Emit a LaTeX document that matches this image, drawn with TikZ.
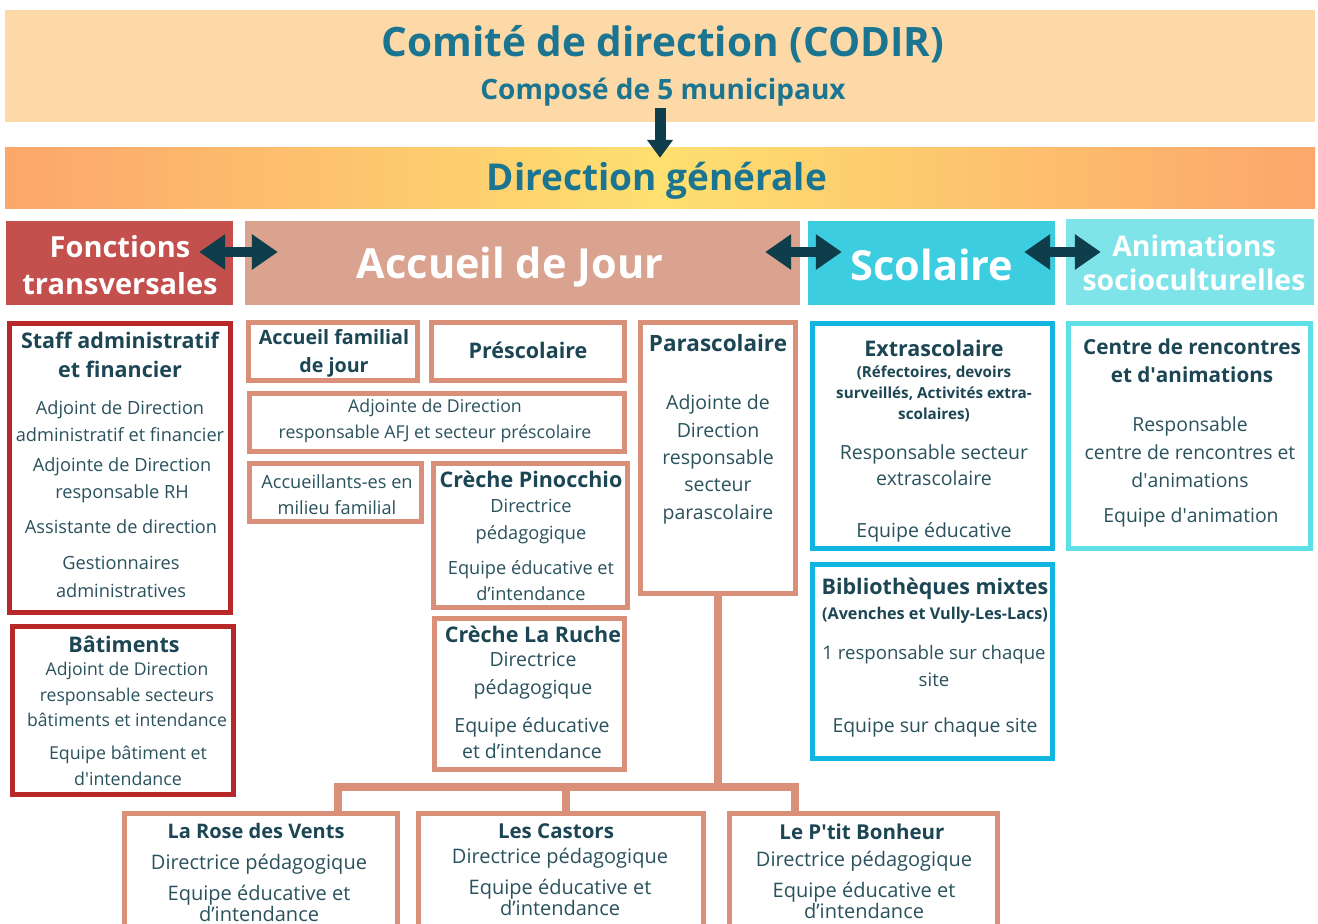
\documentclass[tikz,border=0pt]{standalone}
\usepackage{fontspec}
\setmainfont{Open Sans}
\usetikzlibrary{arrows.meta}
\definecolor{codirfill}{HTML}{FDD9A8}
\definecolor{titleblue}{HTML}{1B7590}
\definecolor{dgedge}{HTML}{FCA66B}
\definecolor{dgmid}{HTML}{FEE070}
\definecolor{fonctfill}{HTML}{C4504D}
\definecolor{accfill}{HTML}{D9A38F}
\definecolor{scolfill}{HTML}{3CCDE0}
\definecolor{animfill}{HTML}{7FE4EA}
\definecolor{redline}{HTML}{B82828}
\definecolor{salmonline}{HTML}{D98F78}
\definecolor{cyanline}{HTML}{10B6DF}
\definecolor{lcyanline}{HTML}{5EE0E6}
\definecolor{navy}{HTML}{0E3E4B}
\definecolor{bodytext}{HTML}{2A525D}
\definecolor{titletext}{HTML}{1C4654}
\begin{document}
\begin{tikzpicture}[x=1pt,y=-1pt,
  frame/.style={draw=#1, line width=5pt, fill=white, inner sep=0pt},
  hdr/.style={fill=#1, draw=none, inner sep=0pt},
  bodyt/.style={font=\fontsize{18.2}{26.5}\selectfont, text=bodytext, align=center, inner sep=0pt},
  titlet/.style={font=\bfseries\fontsize{21.5}{29}\selectfont, text=titletext, align=center, inner sep=0pt},
  smallb/.style={font=\bfseries\fontsize{15.2}{21}\selectfont, text=titletext, align=center, inner sep=0pt},
  hdrt/.style={font=\bfseries\fontsize{29}{37}\selectfont, text=white, align=center, inner sep=0pt},
  bigt/.style={font=\bfseries\fontsize{41.5}{44}\selectfont, text=white, inner sep=0pt},
  dbl/.style={draw=navy, line width=10pt, {Triangle[length=26pt,width=34pt]}-{Triangle[length=26pt,width=34pt]}},
  link/.style={draw=salmonline, line width=8pt},
]
\useasboundingbox (0,0) rectangle (1318,924);
\clip (0,0) rectangle (1318,924);
\fill[white] (0,0) rectangle (1318,924);

% top
\node[fill=codirfill, minimum width=1310pt, minimum height=112pt, inner sep=0pt] (codir) at (660,66) {};
\node[font=\bfseries\fontsize{40.5}{44}\selectfont, text=titleblue, inner sep=0pt] (codirt) at (663,44) {Comité de direction (CODIR)};
\node[font=\bfseries\fontsize{28}{32}\selectfont, text=titleblue, inner sep=0pt] (codirs) at (663,92) {Composé de 5 municipaux};
\node[left color=dgedge, right color=dgedge, middle color=dgmid, minimum width=1310pt, minimum height=61pt, inner sep=0pt] (dg) at (660,177.5) {};
\node[font=\bfseries\fontsize{37}{40}\selectfont, text=titleblue, inner sep=0pt] (dgt) at (657,181) {Direction générale};
\draw[navy, line width=11pt, -{Triangle[length=18pt,width=25pt]}] ([yshift=14pt]codir.south) -- ([yshift=-11pt]dg.north);

% headers
\node[hdr=fonctfill, minimum width=227pt, minimum height=84pt] (fonct) at (119.5,263) {};
\node[hdrt] (fonctt) at (120,265) {Fonctions\\transversales};
\node[hdr=accfill, minimum width=555pt, minimum height=84pt] (accueil) at (522.5,263) {};
\node[bigt] (accueilt) at (510,267) {Accueil de Jour};
\node[hdr=scolfill, minimum width=247pt, minimum height=84pt] (scol) at (931.5,263) {};
\node[bigt] (scolt) at (932,265) {Scolaire};
\node[hdr=animfill, minimum width=248pt, minimum height=86pt] (anim) at (1190,262) {};
\node[hdrt, font=\bfseries\fontsize{28.4}{34}\selectfont] (animt) at (1194,263) {Animations\\socioculturelles};

\draw[dbl] ([xshift=-34pt,yshift=11pt]fonct.east) -- ([xshift=33pt,yshift=11pt]accueil.west);
\draw[dbl] ([xshift=-35pt,yshift=11pt]accueil.east) -- ([xshift=34pt,yshift=11pt]scol.west);
\draw[dbl] ([xshift=-31pt,yshift=11pt]scol.east) -- ([xshift=35pt,yshift=10pt]anim.west);

% connectors (bus)
\coordinate (busL) at (338,787);
\coordinate (busR) at (795,787);

% left column
\node[frame=redline, minimum width=221pt, minimum height=289pt] (staff) at (120,468) {};
\node[titlet] (stafft) at (120,354.5) {Staff administratif\\et financier};
\node[bodyt] (staff1) at (120,421) {Adjoint de Direction\\administratif et financier};
\node[bodyt, font=\fontsize{18.2}{27}\selectfont] (staff2) at (122,480.5) {Adjointe de Direction\\responsable RH};
\node[bodyt] (staff3) at (121,527) {Assistante de direction};
\node[bodyt, font=\fontsize{18.2}{28}\selectfont] (staff4) at (121,577) {Gestionnaires\\administratives};

\node[frame=redline, minimum width=221pt, minimum height=168pt] (bat) at (123,710.5) {};
\node[titlet] (batt) at (124,644) {Bâtiments};
\node[bodyt, font=\fontsize{17.6}{25.5}\selectfont] (bat1) at (127,694.5) {Adjoint de Direction\\responsable secteurs\\bâtiments et intendance};
\node[bodyt, font=\fontsize{17.8}{26}\selectfont] (bat2) at (128,766) {Equipe bâtiment et\\d\textquotesingle intendance};

% Accueil de jour
\node[frame=salmonline, minimum width=169pt, minimum height=58pt] (afj) at (333,351.5) {};
\node[titlet, font=\bfseries\fontsize{19.7}{28}\selectfont] (afjt) at (334,353) {Accueil familial\\de jour};
\node[frame=salmonline, minimum width=193pt, minimum height=58pt] (presco) at (528,351.5) {};
\node[titlet] (prescot) at (528,350) {Préscolaire};
\node[frame=salmonline, minimum width=375pt, minimum height=58pt] (adjafj) at (437,422.5) {};
\node[bodyt, font=\fontsize{17.7}{26}\selectfont] (adjafjt) at (435,421) {Adjointe de Direction\\responsable AFJ et secteur préscolaire};
\node[frame=salmonline, minimum width=172pt, minimum height=58pt] (accfam) at (335.5,492.5) {};
\node[bodyt, font=\fontsize{18.2}{26}\selectfont] (accfamt) at (337,495) {Accueillants-es en\\milieu familial};

\node[frame=salmonline, minimum width=194pt, minimum height=144pt] (pino) at (530.5,535.5) {};
\node[titlet] (pinot) at (531,479) {Crèche Pinocchio};
\node[bodyt, font=\fontsize{18.2}{27}\selectfont] (pino1) at (531,521.5) {Directrice\\pédagogique};
\node[bodyt, font=\fontsize{18.2}{26}\selectfont] (pino2) at (531,581) {Equipe éducative et\\d’intendance};

\node[frame=salmonline, minimum width=190pt, minimum height=151pt] (ruche) at (529.5,694) {};
\node[titlet] (rucht) at (533,634) {Crèche La Ruche};
\node[bodyt, font=\fontsize{19.5}{28}\selectfont] (ruche1) at (533,676) {Directrice\\pédagogique};
\node[bodyt, font=\fontsize{19.5}{26}\selectfont] (ruche2) at (532,738) {Equipe éducative\\et d’intendance};

\node[frame=salmonline, minimum width=155pt, minimum height=271pt] (para) at (718,458) {};
\node[titlet, font=\bfseries\fontsize{22.5}{29}\selectfont] (parat) at (718,343) {Parascolaire};
\node[bodyt, font=\fontsize{19.5}{27.3}\selectfont] (para1) at (718,459.5) {Adjointe de\\Direction\\responsable\\secteur\\parascolaire};

% Scolaire
\node[frame=cyanline, minimum width=240pt, minimum height=225pt] (extra) at (932.5,436) {};
\node[titlet] (extrat) at (934,348) {Extrascolaire};
\node[smallb] (extras) at (934,394) {(Réfectoires, devoirs\\surveillés, Activités extra-\\scolaires)};
\node[bodyt, font=\fontsize{19.5}{26}\selectfont] (extra1) at (934,465) {Responsable secteur\\extrascolaire};
\node[bodyt, font=\fontsize{19.5}{26}\selectfont] (extra2) at (934,532) {Equipe éducative};

\node[frame=cyanline, minimum width=240pt, minimum height=194pt] (biblio) at (932.5,661.5) {};
\node[titlet] (bibliot) at (935,589) {Bibliothèques mixtes};
\node[smallb, font=\bfseries\fontsize{16.2}{18}\selectfont] (biblios) at (935,615) {(Avenches et Vully-Les-Lacs)};
\node[bodyt, font=\fontsize{18.6}{27}\selectfont] (biblio1) at (934,666.5) {1 responsable sur chaque\\site};
\node[bodyt, font=\fontsize{19.4}{27}\selectfont] (biblio2) at (935,727) {Equipe sur chaque site};

% Animations
\node[frame=lcyanline, minimum width=242pt, minimum height=225pt] (centre) at (1189.5,436) {};
\node[titlet, font=\bfseries\fontsize{20.7}{28}\selectfont] (centret) at (1192,361) {Centre de rencontres\\et d\textquotesingle animations};
\node[bodyt, font=\fontsize{19.4}{28}\selectfont] (centre1) at (1190,452) {Responsable\\centre de rencontres et\\d\textquotesingle animations};
\node[bodyt, font=\fontsize{19.4}{27}\selectfont] (centre2) at (1191,517) {Equipe d\textquotesingle animation};

% bottom row
\node[frame=salmonline, minimum width=273pt, minimum height=145pt] (rose) at (261,886) {};
\node[titlet, font=\bfseries\fontsize{20}{24}\selectfont] (roset) at (256,831) {La Rose des Vents};
\node[bodyt, font=\fontsize{20}{21}\selectfont] (rose1) at (259,864) {Directrice pédagogique};
\node[bodyt, font=\fontsize{20}{21}\selectfont] (rose2) at (259,903.5) {Equipe éducative et\\d’intendance};

\node[frame=salmonline, minimum width=285pt, minimum height=145pt] (castors) at (561,886) {};
\node[titlet, font=\bfseries\fontsize{20.5}{24}\selectfont] (castorst) at (556,831) {Les Castors};
\node[bodyt, font=\fontsize{20}{21}\selectfont] (castors1) at (560,858) {Directrice pédagogique};
\node[bodyt, font=\fontsize{20}{21}\selectfont] (castors2) at (560,897.5) {Equipe éducative et\\d’intendance};

\node[frame=salmonline, minimum width=268pt, minimum height=145pt] (bonheur) at (863.5,886) {};
\node[titlet, font=\bfseries\fontsize{20.5}{24}\selectfont] (bonheurt) at (862,832) {Le P\textquotesingle tit Bonheur};
\node[bodyt, font=\fontsize{20}{21}\selectfont] (bonheur1) at (864,861) {Directrice pédagogique};
\node[bodyt, font=\fontsize{20}{21}\selectfont] (bonheur2) at (864,900.5) {Equipe éducative et\\d’intendance};

% connectors
\draw[link] (para.south) -- (para.south |- busL);
\draw[link] (busL |- rose.north) -- (busL) -- (busR) -- (busR |- bonheur.north);
\draw[link] ([xshift=5pt]castors.north) -- ([xshift=5pt]castors.north |- busL);
\end{tikzpicture}
\end{document}
